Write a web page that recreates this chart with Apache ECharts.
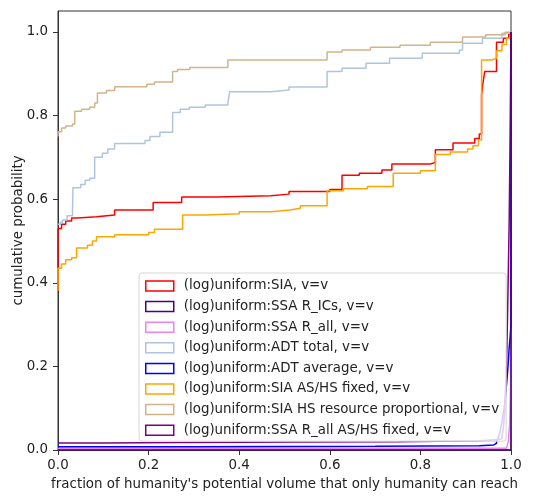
<!DOCTYPE html>
<html>
<head>
<meta charset="UTF-8"/>
<script type="text/javascript" src="https://cdn.jsdelivr.net/npm/echarts@6/dist/echarts.min.js"></script>
<title>cdf</title>
<style>
  html, body { margin: 0; padding: 0; background: #fff; }
  #main { width: 544px; height: 499px; }
</style>
</head>
<body>
<div id="main"></div>
<script type="text/javascript">
    // tick labels
    var xTicks = [0, 0.2, 0.4, 0.6, 0.8, 1.0]
    var yTicks = [0, 0.2, 0.4, 0.6, 0.8, 1.0]

    // legend names, in plot order
    var names = [
        "(log)uniform:SIA, v=v",
        "(log)uniform:SSA R_ICs, v=v",
        "(log)uniform:SSA R_all, v=v",
        "(log)uniform:ADT total, v=v",
        "(log)uniform:ADT average, v=v",
        "(log)uniform:SIA AS/HS fixed, v=v",
        "(log)uniform:SIA HS resource proportional, v=v",
        "(log)uniform:SSA R_all AS/HS fixed, v=v"
    ]
    var colors = ["#ff0000", "#4b0082", "#ee82ee", "#b0c4de", "#0000ff", "#ffa500", "#d2b48c", "#800080"]

    // [x, new level] pairs of the step cdfs
    var sia = [[0, 0.38], [0, 0.53], [0.008, 0.54], [0.017, 0.548], [0.03, 0.555], [0.043, 0.558],
        [0.085, 0.562], [0.125, 0.574], [0.21, 0.592], [0.273, 0.605], [0.35, 0.608], [0.47, 0.612],
        [0.51, 0.618], [0.6, 0.623], [0.627, 0.657], [0.665, 0.662], [0.715, 0.67], [0.737, 0.684],
        [0.822, 0.688], [0.833, 0.718], [0.872, 0.734], [0.92, 0.745], [0.93, 0.756], [0.935, 0.85],
        [0.938, 0.877], [0.942, 0.905], [0.968, 0.975], [0.983, 0.985], [0.995, 0.995], [1.0, 1.0]]
    var ssaRICs = [[0, 0.0], [1.0, 0.0], [1.0, 1.0]]
    var ssaRall = [[0, 0.004], [0.99, 0.006], [0.994, 0.02], [0.997, 0.06], [0.999, 0.15],
        [1.0, 0.3], [1.0, 1.0]]
    var adtAverage = [[0, 0.008], [0.3, 0.009], [0.7, 0.01], [0.93, 0.012], [0.962, 0.016],
        [0.968, 0.022], [0.972, 0.03], [0.976, 0.045], [0.979, 0.06], [0.982, 0.08], [0.985, 0.1],
        [0.988, 0.13], [0.99, 0.155], [0.992, 0.18], [0.994, 0.21], [0.996, 0.245], [0.998, 0.27],
        [1.0, 0.3], [1.0, 1.0]]
    var adtTotal = [[0, 0.54], [0.005, 0.545], [0.01, 0.55], [0.02, 0.56], [0.032, 0.575], [0.033, 0.627],
        [0.05, 0.635], [0.06, 0.645], [0.07, 0.65], [0.081, 0.70], [0.098, 0.71], [0.11, 0.72],
        [0.125, 0.733], [0.192, 0.74], [0.203, 0.75], [0.225, 0.76], [0.253, 0.807], [0.27, 0.815],
        [0.29, 0.82], [0.325, 0.825], [0.375, 0.83], [0.379, 0.857], [0.47, 0.861], [0.51, 0.868],
        [0.594, 0.905], [0.627, 0.913], [0.68, 0.925], [0.732, 0.937], [0.804, 0.949], [0.886, 0.957],
        [0.893, 0.973], [0.937, 0.985], [0.98, 0.997], [1.0, 1.0]]
    var siaFixed = [[0, 0.38], [0, 0.435], [0.008, 0.445], [0.017, 0.455], [0.03, 0.46], [0.041, 0.483],
        [0.065, 0.49], [0.076, 0.5], [0.085, 0.51], [0.125, 0.515], [0.2, 0.52], [0.213, 0.528],
        [0.275, 0.562], [0.325, 0.565], [0.4, 0.57], [0.47, 0.574], [0.512, 0.578], [0.535, 0.584],
        [0.594, 0.62], [0.63, 0.625], [0.683, 0.63], [0.74, 0.662], [0.8, 0.668], [0.833, 0.707],
        [0.866, 0.713], [0.904, 0.72], [0.916, 0.728], [0.928, 0.742], [0.935, 0.933], [0.959, 0.937],
        [0.968, 0.955], [0.98, 0.97], [0.99, 0.985], [1.0, 1.0]]
    var siaHSProp = [[0, 0.75], [0, 0.761], [0.008, 0.77], [0.017, 0.775], [0.032, 0.78], [0.037, 0.81],
        [0.052, 0.815], [0.07, 0.82], [0.081, 0.83], [0.087, 0.854], [0.107, 0.86], [0.125, 0.869],
        [0.196, 0.875], [0.213, 0.88], [0.253, 0.905], [0.264, 0.91], [0.291, 0.915], [0.375, 0.933],
        [0.594, 0.952], [0.627, 0.957], [0.69, 0.963], [0.755, 0.968], [0.822, 0.975], [0.893, 0.988],
        [0.944, 0.993], [0.987, 0.999], [1.0, 1.0]]
    var ssaRallFixed = [[0, 0.017], [0.1, 0.018], [0.27, 0.019], [0.53, 0.02], [0.75, 0.022],
        [0.93, 0.025], [0.975, 0.028], [0.98, 0.035], [0.983, 0.05], [0.986, 0.09], [0.988, 0.15],
        [0.99, 0.2], [0.992, 0.3], [0.994, 0.42], [0.996, 0.55], [0.998, 0.75], [1.0, 1.0]]

    var seriesData = [sia, ssaRICs, ssaRall, adtTotal, adtAverage, siaFixed, siaHSProp, ssaRallFixed]

    var myChart = echarts.init(document.getElementById('main'))

    var series = []
    for (var i = 0; i < names.length; i++) {
        series.push({
            name: names[i],
            type: 'line',
            step: 'end',
            data: seriesData[i],
            showSymbol: false,
            symbol: 'none',
            z: i == 1 ? 12 : 2 + i * 0.1,
            lineStyle: {color: colors[i], width: 1.5},
            itemStyle: {color: colors[i]}
        })
    }

    var legendData = []
    for (var j = 0; j < names.length; j++) {
        legendData.push({
            name: names[j],
            icon: 'rect',
            itemStyle: {color: '#ffffff', borderColor: colors[j], borderWidth: 1.5}
        })
    }

    var fmt = function (v) { return v.toFixed(1) }
    var fs = 13.4

    var option = {
        animation: false,
        textStyle: {fontFamily: 'DejaVu Sans'},
        grid: {
            left: 58, right: 33, top: 11, bottom: 49,
            outerBoundsMode: 'none',
            containLabel: false,
            show: true, borderColor: '#333', borderWidth: 1, backgroundColor: '#fff'
        },
        legend: {
            orient: 'vertical',
            left: 139,
            top: 273,
            z: 20,
            padding: [6, 7, 4, 6],
            itemWidth: 28,
            itemHeight: 10,
            itemGap: 6.6,
            backgroundColor: 'rgba(255,255,255,0.8)',
            borderColor: '#d6d6d6',
            borderWidth: 1,
            borderRadius: 3,
            textStyle: {fontSize: fs, lineHeight: 14, color: '#222', fontFamily: 'DejaVu Sans', padding: [0, 0, 0, 5]},
            data: legendData
        },
        xAxis: {
            type: 'value',
            min: 0,
            max: 1,
            interval: 0.2,
            name: "fraction of humanity's potential volume that only humanity can reach",
            nameLocation: 'middle',
            nameGap: 28,
            nameMoveOverlap: false,
            nameTextStyle: {fontSize: fs, color: '#222'},
            splitLine: {show: false},
            axisLine: {show: true, lineStyle: {color: '#333'}},
            axisTick: {show: true, length: 5, lineStyle: {color: '#333'}},
            axisLabel: {fontSize: fs, color: '#222', margin: 9, formatter: fmt}
        },
        yAxis: {
            type: 'value',
            min: 0,
            max: 1.05,
            name: 'cumulative probability',
            nameLocation: 'middle',
            nameGap: 33,
            nameMoveOverlap: false,
            nameTextStyle: {fontSize: fs, color: '#222'},
            splitLine: {show: false},
            axisLine: {show: true, lineStyle: {color: '#333'}},
            axisTick: {show: true, length: 5, lineStyle: {color: '#333'}, customValues: yTicks},
            axisLabel: {fontSize: fs, color: '#222', margin: 10, formatter: fmt, customValues: yTicks}
        },
        series: series
    }
    myChart.setOption(option)
</script>
</body>
</html>
